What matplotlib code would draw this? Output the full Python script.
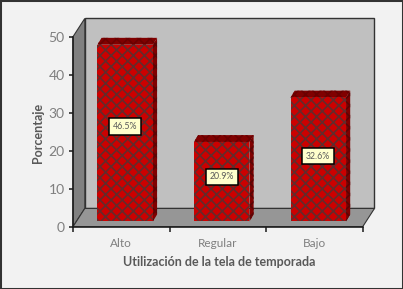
import matplotlib
matplotlib.use("Agg")
import matplotlib.pyplot as plt
from matplotlib.patches import Polygon, Rectangle

categorias = ["Alto", "Regular", "Bajo"]
porcentajes = [46.5, 20.9, 32.6]
etiquetas = ["46.5%", "20.9%", "32.6%"]
y_ticks = [0, 10, 20, 30, 40, 50]
# altura de las etiquetas sobre el eje
y_etiquetas = [26.4, 13.1, 18.6]

W, H = 403, 289
plt.rcParams["font.family"] = ["Lato", "DejaVu Sans"]
plt.rcParams["hatch.linewidth"] = 1.2

fig = plt.figure(figsize=(W / 100, H / 100), dpi=100, facecolor="#F2F2F2")
fig.add_artist(Rectangle((0, 0), 1, 1, transform=fig.transFigure, fill=False, edgecolor="#333333", linewidth=2.2))

# plano frontal del grafico
left, right, top, bottom = 73, 362.7, 36.7, 226.7
ax = fig.add_axes([left / W, 1 - bottom / H, (right - left) / W, (bottom - top) / H])
ax.patch.set_alpha(0)
ax.set_xlim(0, 3)
ax.set_ylim(0, 50)

# profundidad de la caja y de las barras, en unidades de datos
dx, dy = 0.122, 4.8
bx, by = 0.04, 1.4
bdx, bdy = 0.043, 1.8
ancho = 0.575


def poligono(puntos, color, z, **kw):
    ax.add_patch(Polygon(puntos, closed=True, facecolor=color, clip_on=False, zorder=z, **kw))


# paredes
poligono([(dx, dy), (3 + dx, dy), (3 + dx, 50 + dy), (dx, 50 + dy)], "#C0C0C0", 1, edgecolor="#333333", linewidth=1)
poligono([(0, 0), (dx, dy), (dx, 50 + dy), (0, 50)], "#808080", 1.1, edgecolor="#333333", linewidth=0.8)
poligono([(0, 0), (3, 0), (3 + dx, dy), (dx, dy)], "#969696", 1.1, edgecolor="#333333", linewidth=0.8)

# barras
for i, v in enumerate(porcentajes):
    x0 = i + 0.5 - ancho / 2 + bx
    x1 = x0 + ancho
    y0 = by
    y1 = v + by
    poligono([(x1, y0), (x1 + bdx, y0 + bdy), (x1 + bdx, y1 + bdy), (x1, y1)], "#800000", 2,
             edgecolor="#5A0505", hatch="xxx", linewidth=0)
    poligono([(x0, y1), (x1, y1), (x1 + bdx, y1 + bdy), (x0 + bdx, y1 + bdy)], "#800000", 2,
             edgecolor="#6A0000", hatch="xxx", linewidth=0)
    poligono([(x0, y0), (x1, y0), (x1, y1), (x0, y1)], "#CC0000", 3,
             edgecolor="#632B2B", hatch="xxx", linewidth=0)
    ax.text((x0 + x1) / 2, y_etiquetas[i], etiquetas[i], ha="center", va="center", fontsize=6.3, color="#595959", zorder=5,
            bbox=dict(boxstyle="square,pad=0.42", facecolor="#FFFFCC", edgecolor="black", linewidth=1.1))

for s in ["top", "right"]:
    ax.spines[s].set_visible(False)
for s in ["left", "bottom"]:
    ax.spines[s].set_color("#1A1A1A")
    ax.spines[s].set_linewidth(1.1)
    ax.spines[s].set_zorder(4)

ax.set_yticks(y_ticks)
ax.set_xticks([0, 1, 2, 3])
ax.set_xticklabels([])
ax.set_xticks([0.5, 1.5, 2.5], categorias, minor=True)
ax.tick_params(axis="y", length=3, width=1.1, color="#1A1A1A", labelsize=10, labelcolor="#7F7F7F", pad=3)
ax.tick_params(axis="x", which="major", length=3.5, width=1.1, color="#1A1A1A")
ax.tick_params(axis="x", which="minor", length=0, labelsize=8.5, labelcolor="#7F7F7F", pad=8)

fig.text(219 / W, 1 - 261.5 / H, "Utilización de la tela de temporada", ha="center", va="center",
         fontsize=9, fontweight="bold", color="#595959")
fig.text(38 / W, 1 - 132.5 / H, "Porcentaje", ha="center", va="center", rotation=90,
         fontsize=9, fontweight="bold", color="#595959")

fig.savefig("out.png", dpi=100, facecolor=fig.get_facecolor())
